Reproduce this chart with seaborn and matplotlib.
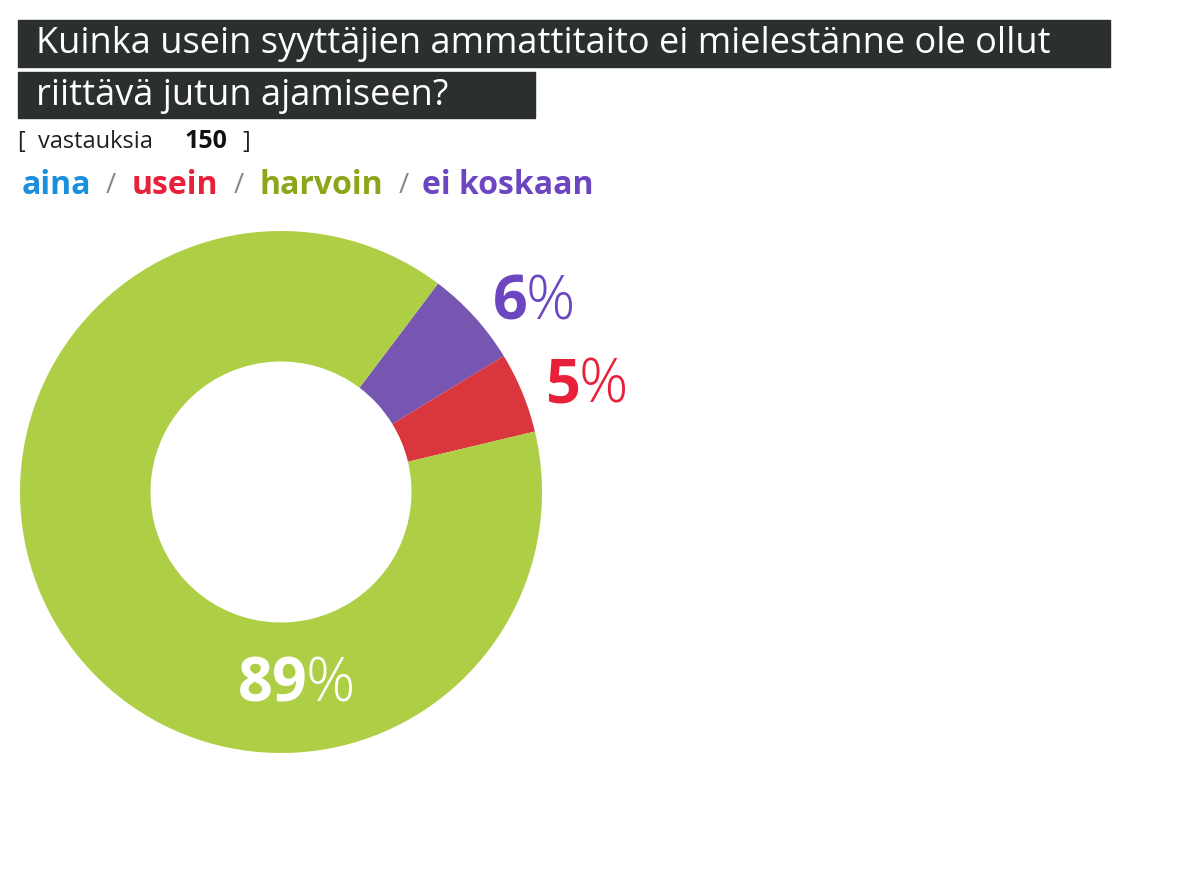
import matplotlib
matplotlib.use("Agg")
import matplotlib.pyplot as plt
import seaborn as sns
from matplotlib.patches import Rectangle

sns.set_theme(style="white")
plt.rcParams['font.family'] = ['Open Sans', 'DejaVu Sans']

categories = ["ei koskaan", "usein", "harvoin"]
values = [6, 5, 89]
colors = ["#7656b0", "#d9363e", "#aecf45"]
legend_names = ["aina", "usein", "harvoin", "ei koskaan"]
legend_colors = ["#1a8fdd", "#e8203a", "#8ca61a", "#6b46c0"]
title_lines = ["Kuinka usein syyttäjien ammattitaito ei mielestänne ole ollut",
               "riittävä jutun ajamiseen?"]
n_answers = 150

W, H = 1199, 881
fig = plt.figure(figsize=(W/100, H/100), dpi=100)
fig.patch.set_facecolor("white")

def fx(x): return x / W
def fy(y): return 1 - y / H

fig.patches.append(Rectangle((fx(18), fy(67)), fx(1110)-fx(18), fy(20)-fy(67),
                             transform=fig.transFigure, color="#2b2f30"))
fig.patches.append(Rectangle((fx(18), fy(118)), fx(535)-fx(18), fy(72)-fy(118),
                             transform=fig.transFigure, color="#2b2f30"))
fig.text(fx(36), fy(44), title_lines[0], color="white", fontsize=26, va="center")
fig.text(fx(36), fy(96), title_lines[1], color="white", fontsize=26, va="center")

fig.text(fx(18), fy(142), "[  vastauksia", fontsize=17, va="center", color="#222")
fig.text(fx(185), fy(142), str(n_answers), fontsize=18, va="center", fontweight="bold", color="#111")
fig.text(fx(242), fy(142), "]", fontsize=17, va="center", color="#222")

xs = [22, 132, 260, 422]
for n, c, x in zip(legend_names, legend_colors, xs):
    fig.text(fx(x), fy(186), n, color=c, fontsize=23, fontweight="bold", va="center")
for x in [106, 234, 399]:
    fig.text(fx(x), fy(186), "/", color="#888", fontsize=20, va="center")

cx, cy, r = 281, 492, 261
ax = fig.add_axes([fx(cx - r), fy(cy + r), 2*r/W, 2*r/H])
ax.pie(values, colors=colors, startangle=53, counterclock=False,
       wedgeprops=dict(width=0.5, edgecolor="none"))
ax.set_xlim(-1, 1)
ax.set_ylim(-1, 1)
ax.set_aspect("equal")
ax.axis("off")

def pct(x, y, num, color):
    t = ax.text(fx(x), fy(y), num, color=color, fontsize=44, fontweight="bold",
                va="center", ha="left", transform=fig.transFigure, clip_on=False, zorder=10)
    fig.canvas.draw()
    bb = t.get_window_extent()
    ax.text(bb.x1 / W - 0.002, fy(y), "%", color=color, fontsize=44, fontweight="light",
            va="center", ha="left", transform=fig.transFigure, clip_on=False, zorder=10)

pct(493, 304, "6", "#6b46c0")
pct(546, 387, "5", "#e8203a")
pct(238, 686, "89", "white")

fig.savefig("out.png", dpi=100, facecolor="white")
